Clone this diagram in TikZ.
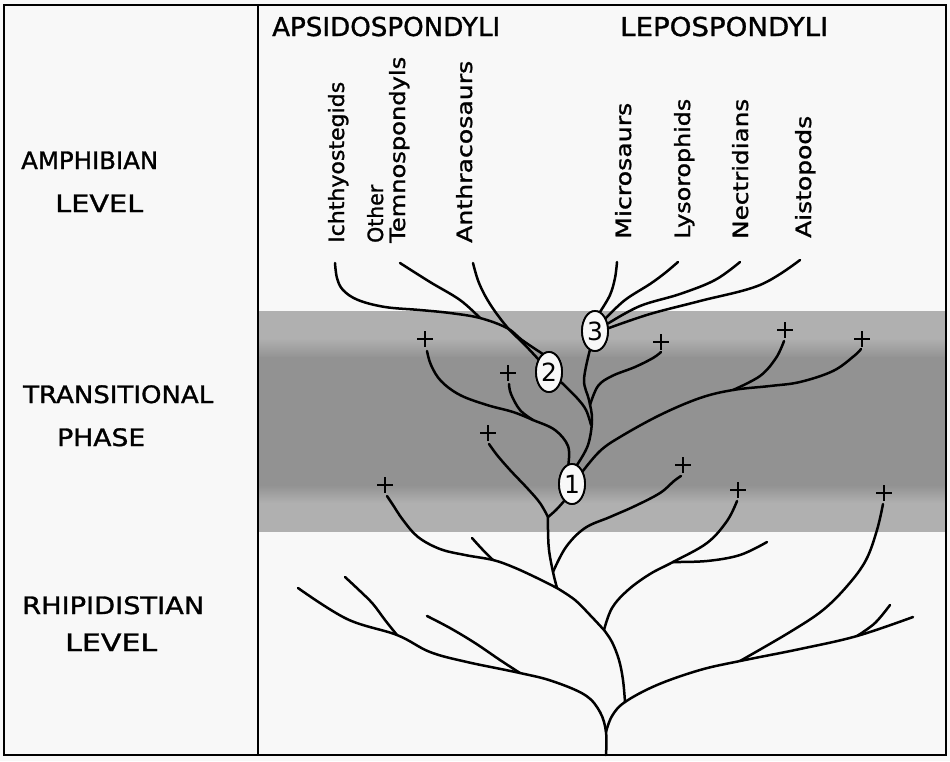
\documentclass[tikz,border=0pt]{standalone}
\usepackage{fontspec}
\usepackage{graphicx}
\setmainfont{DejaVu Sans}
\newfontfamily\labfont{DejaVu Sans}[FakeBold=1.2]
\usetikzlibrary{shapes.geometric}
\definecolor{paper}{RGB}{248,248,248}
\definecolor{bandlight}{RGB}{176,176,176}
\definecolor{banddark}{RGB}{146,146,146}
\newcommand\fitw[2]{\resizebox{#1}{\height}{#2}}
\tikzset{
  branch/.style={line width=2.5pt, line cap=round, line join=round},
  sm/.style={smooth, tension=0.6},
  vlab/.style={rotate=90, anchor=base west, inner sep=0pt, font=\labfont\fontsize{21}{22}\selectfont},
  caplab/.style={anchor=base west, inner sep=0pt, font=\labfont\fontsize{24}{26}\selectfont},
  toplab/.style={anchor=base west, inner sep=0pt, font=\labfont\fontsize{26}{28}\selectfont},
  ell/.style={draw, ellipse, fill=paper, line width=1.8pt, minimum width=26pt, minimum height=40pt, inner sep=0pt, font=\fontsize{25}{25}\selectfont},
  crossmark/.pic={\draw[line width=2.4pt] (-8,0) -- (8,0) (0,-8) -- (0,8);}
}
\begin{document}
\begin{tikzpicture}[x=1pt,y=-1pt]
\useasboundingbox (0,0) rectangle (950,761);
\fill[paper] (0,0) rectangle (950,761);
% band
\fill[bandlight] (258,311) rectangle (946,532);
\shade[top color=bandlight, bottom color=banddark] (258,338) rectangle (946,358);
\fill[banddark] (258,357) rectangle (946,486);
\shade[top color=banddark, bottom color=bandlight] (258,485) rectangle (946,503);
% frame
\draw[line width=2.6pt] (4,5) rectangle (946,755);
\draw[line width=2pt] (258,5) -- (258,755);

% left labels
\node[caplab] (amph) at (21,169) {\fitw{137pt}{AMPHIBIAN}};
\node[caplab] (lev1) at (55,212) {\fitw{88pt}{LEVEL}};
\node[caplab] (trans) at (23,403) {\fitw{190pt}{TRANSITIONAL}};
\node[caplab] (phase) at (57,446) {\fitw{88pt}{PHASE}};
\node[caplab] (rhip) at (22,614) {\fitw{182pt}{RHIPIDISTIAN}};
\node[caplab] (lev2) at (65,651) {\fitw{92pt}{LEVEL}};
% top labels
\node[toplab] (apsi) at (272,36) {\fitw{228pt}{APSIDOSPONDYLI}};
\node[toplab] (lepo) at (620,36) {\fitw{208pt}{LEPOSPONDYLI}};
% rotated taxon labels
\node[vlab] (ich) at (344,243) {\fitw{161pt}{Ichthyostegids}};
\node[vlab] (oth) at (383,243) {\fitw{58pt}{Other}};
\node[vlab] (tem) at (405,243) {\fitw{186pt}{Temnospondyls}};
\node[vlab] (ant) at (472,243) {\fitw{182pt}{Anthracosaurs}};
\node[vlab] (mic) at (631,239) {\fitw{136pt}{Microsaurs}};
\node[vlab] (lys) at (690,239) {\fitw{140pt}{Lysorophids}};
\node[vlab] (nec) at (748,239) {\fitw{140pt}{Nectridians}};
\node[vlab] (ais) at (811,238) {\fitw{122pt}{Aistopods}};

% ellipses
\node[ell] (e1) at (572,484) {1};
\node[ell] (e2) at (549,372) {2};
\node[ell] (e3) at (595,331) {3};

% plus marks
\coordinate (pa) at (425,339);
\coordinate (pb) at (508,373);
\coordinate (pc) at (488,433);
\coordinate (pd) at (385,485);
\coordinate (pe) at (661,342);
\coordinate (pf) at (785,330);
\coordinate (pg) at (862,339);
\coordinate (ph) at (683,465);
\coordinate (pi) at (738,490);
\coordinate (pj) at (884,493);
\foreach \p in {pa,pb,pc,pd,pe,pf,pg,ph,pi,pj} \pic at (\p) {crossmark};

% junctions
\coordinate (s0) at (606,732);
\coordinate (j1) at (625,702);
\coordinate (j2) at (604,630);
\coordinate (j4) at (673,562);
\coordinate (j5) at (557,588);
\coordinate (j5b) at (553,572);
\coordinate (j6) at (493,560);
\coordinate (j7) at (548,517);
\coordinate (j8) at (733,390);
\coordinate (la) at (520,673);
\coordinate (lb) at (397,635);
\coordinate (ra) at (740,661);
\coordinate (rb) at (857,636);
\coordinate (ja) at (533,420);
\coordinate (jd) at (480,318);

% tree: lower part
\draw[branch] plot[sm] coordinates {(606,755) (s0) (600,712) (585,695) (552,681) (la) (467,662) (430,652) (lb) (347,619) (298,588)};
\draw[branch] plot[sm] coordinates {(lb) (385,620) (373,604) (360,591) (345,577)};
\draw[branch] plot[sm] coordinates {(la) (500,660) (475,643) (450,628) (427,616)};
\draw[branch] plot[sm] coordinates {(s0) (612,716) (j1) (657,685) (700,670) (ra) (800,649) (rb) (913,617)};
\draw[branch] plot[sm] coordinates {(ra) (790,632) (823,610) (848,585) (866,560) (877,530) (883,504)};
\draw[branch] plot[sm] coordinates {(rb) (875,623) (890,605)};
\draw[branch] plot[sm] coordinates {(j1) (623,680) (619,660) (612,642) (j2)};
\draw[branch] plot[sm] coordinates {(j2) (612,608) (628,590) (650,574) (j4) (707,543) (727,521) (737,501)};
\draw[branch] plot[sm] coordinates {(j4) (707,561) (740,555) (767,542)};
\draw[branch] plot[sm] coordinates {(j2) (590,615) (575,600) (j5)};
\draw[branch] plot[sm] coordinates {(j5) (535,577) (513,567) (j6) (465,555) (440,549) (418,537) (403,520) (393,505) (387,496)};
\draw[branch] plot[sm] coordinates {(j6) (482,549) (472,538)};
\draw[branch] plot[sm] coordinates {(j5) (j5b) (549,550) (548,530) (j7)};
\draw[branch] plot[sm] coordinates {(j5b) (566,547) (585,528) (610,517) (635,506) (660,493) (674,481) (681,476)};
\draw[branch] plot[sm] coordinates {(j7) (540,503) (528,489) (510,470) (497,455) (489,444)};
\draw[branch] plot[sm] coordinates {(j7) (556,510) (e1.245)};

% above ellipse 1
\draw[branch] plot[sm] coordinates {(e1.100) (568,446) (555,430) (ja) (513,412) (487,405) (460,395) (441,381) (431,365) (427,351)};
\draw[branch] plot[sm] coordinates {(ja) (520,410) (511,394) (509,384)};
\draw[branch] plot[sm] coordinates {(e1.75) (588,445) (592,420) (589,400) (584,380) (e3.255)};
\draw[branch] plot[sm] coordinates {(591,425) (586,410) (577,398) (e2.320)};
\draw[branch] plot[sm] coordinates {(590,405) (598,386) (612,376) (635,367) (653,358) (661,352)};
\draw[branch] plot[sm] coordinates {(e1.50) (600,451) (620,437) (660,415) (700,398) (j8) (770,386) (800,382) (833,371) (854,356) (861,349)};
\draw[branch] plot[sm] coordinates {(j8) (760,376) (776,358) (784,341)};

% above ellipse 2
\draw[branch] plot[sm] coordinates {(e2.110) (522,340) (507,328) (jd) (450,313) (420,310) (385,307) (358,300) (343,290) (337,278) (335,263)};
\draw[branch] plot[sm] coordinates {(jd) (460,300) (430,282) (400,263)};
\draw[branch] plot[sm] coordinates {(473,263) (479,283) (490,304) (507,327) (524,344) (e2.130)};

% above ellipse 3
\draw[branch] plot[sm] coordinates {(e3.75) (610,295) (615,278) (617,262)};
\draw[branch] plot[sm] coordinates {(e3.50) (625,300) (650,284) (665,273) (678,262)};
\draw[branch] plot[sm] coordinates {(e3.30) (640,306) (680,294) (715,280) (740,262)};
\draw[branch] plot[sm] coordinates {(e3.12) (650,314) (700,301) (760,285) (800,260)};

% redraw ellipses on top
\node[ell] at (e1) {1};
\node[ell] at (e2) {2};
\node[ell] at (e3) {3};
\end{tikzpicture}
\end{document}
